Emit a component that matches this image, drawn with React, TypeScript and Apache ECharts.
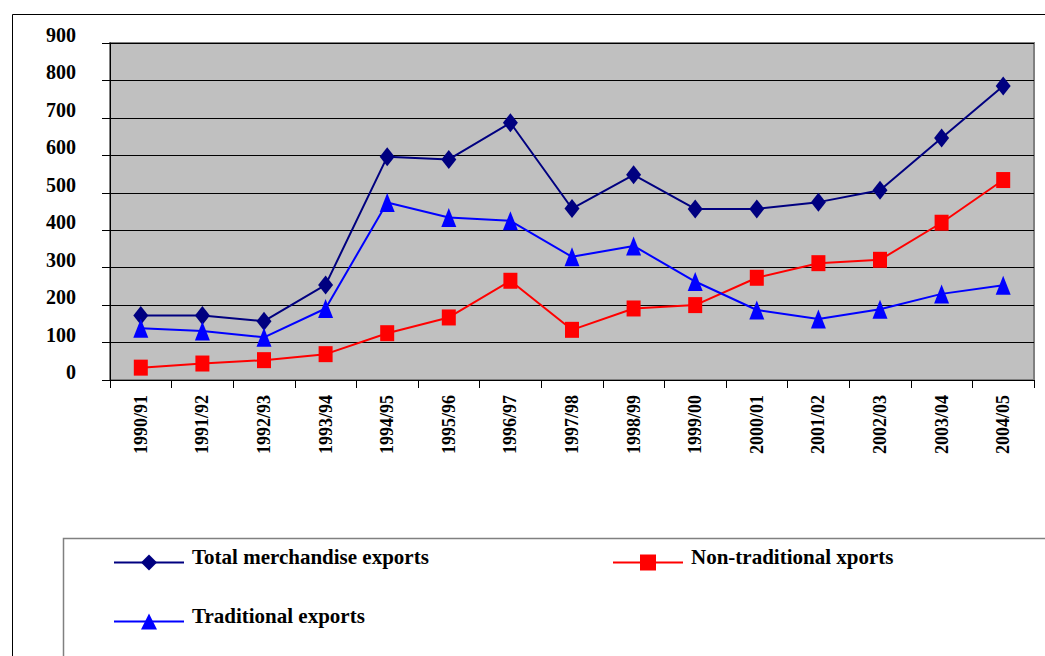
import React, { useEffect, useRef } from "react";
import * as echarts from "echarts";

const categories = [
  "1990/91", "1991/92", "1992/93", "1993/94", "1994/95", "1995/96", "1996/97", "1997/98",
  "1998/99", "1999/00", "2000/01", "2001/02", "2002/03", "2003/04", "2004/05",
];
const totalExports = [172, 172, 157, 254, 596, 589, 687, 458, 548, 457, 457, 475, 507, 646, 785];
const nonTraditionalExports = [33, 44, 53, 69, 125, 167, 265, 134, 191, 200, 273, 312, 321, 420, 534];
const traditionalExports = [138, 131, 114, 191, 474, 434, 425, 329, 358, 263, 187, 163, 189, 230, 253];
const seriesNames = ["Total merchandise exports", "Non-traditional xports", "Traditional exports"];

const FONT = "'Liberation Serif', 'Times New Roman', serif";

export default function App() {
  const ref = useRef<HTMLDivElement>(null);
  useEffect(() => {
    if (!ref.current) return;
    const chart = echarts.init(ref.current, undefined, { renderer: "svg" });
    const legendBase = {
      orient: "horizontal",
      itemWidth: 70,
      itemHeight: 20,
      padding: 0,
      selectedMode: false,
      formatter: "{t|{name}}",
      textStyle: {
        rich: {
          t: {
            fontFamily: FONT,
            fontSize: 21,
            fontWeight: "bold",
            color: "#000",
            padding: [0, 0, 12, 3],
          },
        },
      },
    };
    chart.setOption({
      animation: false,
      backgroundColor: "#fff",
      graphic: [
        {
          type: "rect",
          left: 10,
          top: 12,
          shape: { width: 1200, height: 800 },
          style: { fill: "none", stroke: "#000", lineWidth: 1 },
          silent: true,
          z: -10,
        },
        {
          type: "rect",
          left: 61,
          top: 536,
          shape: { width: 1200, height: 300 },
          style: { fill: "none", stroke: "#808080", lineWidth: 1.5 },
          silent: true,
          z: -10,
        },
      ],
      grid: {
        left: 110,
        top: 43,
        right: 11,
        bottom: 276,
        show: true,
        backgroundColor: "#C0C0C0",
        borderColor: "#808080",
        borderWidth: 2,
      },
      legend: [
        { ...legendBase, data: [seriesNames[0]], left: 113, top: 546 },
        { ...legendBase, data: [seriesNames[1]], left: 612, top: 546 },
        { ...legendBase, data: [seriesNames[2]], left: 113, top: 605 },
      ],
      xAxis: {
        type: "category",
        data: categories,
        boundaryGap: true,
        axisLine: { show: true, lineStyle: { color: "#000", width: 1 } },
        axisTick: { show: true, length: 8, lineStyle: { color: "#000" } },
        axisLabel: {
          rotate: 90,
          interval: 0,
          margin: 15,
          fontFamily: FONT,
          fontSize: 18,
          fontWeight: "bold",
          color: "#000",
        },
        splitLine: { show: false },
      },
      yAxis: {
        type: "value",
        min: 0,
        max: 900,
        interval: 100,
        axisLine: { show: true, lineStyle: { color: "#000", width: 1 } },
        axisTick: { show: true, length: 8, lineStyle: { color: "#000" } },
        axisLabel: {
          margin: 34,
          verticalAlign: "bottom",
          lineHeight: 16,
          fontFamily: FONT,
          fontSize: 20,
          fontWeight: "bold",
          color: "#000",
        },
        splitLine: { show: true, lineStyle: { color: "#000", width: 1 } },
      },
      series: [
        {
          name: seriesNames[0],
          type: "line",
          data: totalExports,
          symbol: "diamond",
          symbolSize: [15, 19],
          lineStyle: { color: "#000080", width: 2 },
          itemStyle: { color: "#000080" },
        },
        {
          name: seriesNames[1],
          type: "line",
          data: nonTraditionalExports,
          symbol: "rect",
          symbolSize: [14, 16],
          lineStyle: { color: "#FF0000", width: 2 },
          itemStyle: { color: "#FF0000" },
        },
        {
          name: seriesNames[2],
          type: "line",
          data: traditionalExports,
          symbol: "triangle",
          symbolSize: [15, 19],
          lineStyle: { color: "#0000FF", width: 2 },
          itemStyle: { color: "#0000FF" },
        },
      ],
    });
    return () => chart.dispose();
  }, []);
  return (
    <div
      ref={ref}
      style={{ position: "fixed", left: 0, top: 0, width: 1045, height: 656 }}
    />
  );
}
